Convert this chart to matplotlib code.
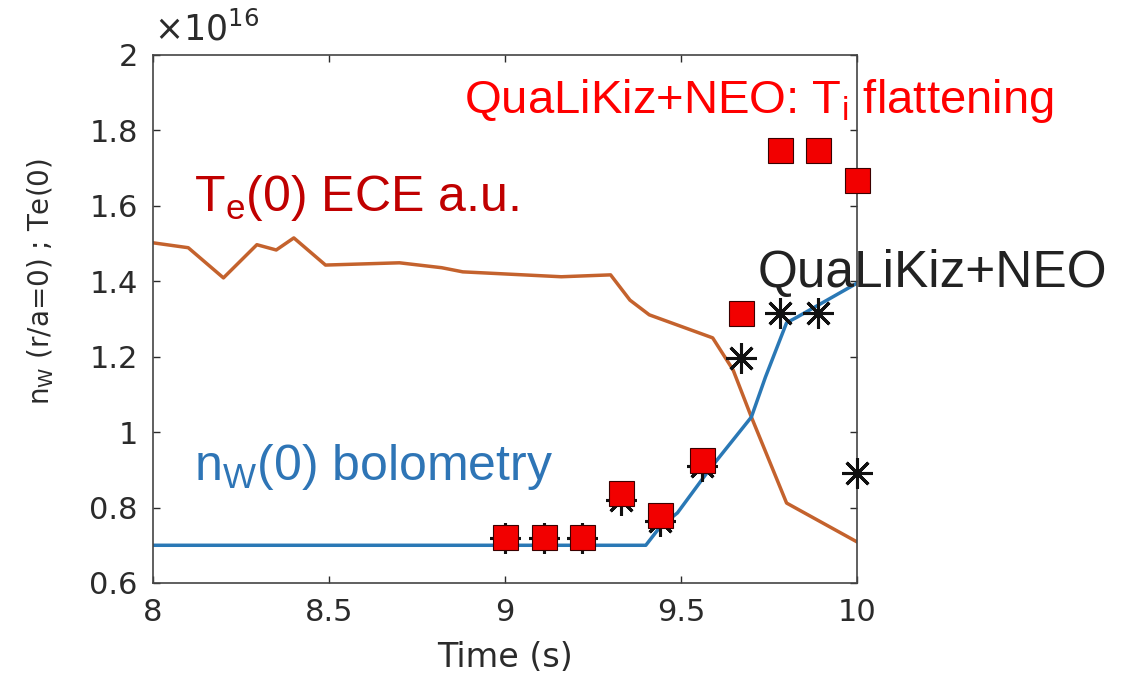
import numpy as np
import matplotlib
matplotlib.use("Agg")
import matplotlib.pyplot as plt

plt.rcParams['font.family'] = ['DejaVu Sans']
plt.rcParams['mathtext.default'] = 'regular'

# Te(0) ECE trace (a.u., plotted in units of 1e16)
te_t = [8.0, 8.10, 8.20, 8.295, 8.35, 8.40, 8.49, 8.70, 8.82, 8.88, 9.16, 9.30,
        9.355, 9.41, 9.59, 9.648, 9.70, 9.80, 10.0]
te_v = [1.502, 1.489, 1.409, 1.497, 1.483, 1.515, 1.443, 1.449, 1.436, 1.425,
        1.412, 1.417, 1.35, 1.311, 1.25, 1.165, 1.04, 0.812, 0.709]

# nW(0) bolometry trace
nw_t = [8.0, 9.40, 9.44, 9.49, 9.58, 9.70, 9.74, 9.80, 9.83, 10.0]
nw_v = [0.70, 0.70, 0.748, 0.786, 0.90, 1.04, 1.146, 1.29, 1.305, 1.395]

# QuaLiKiz+NEO simulation points
sim_t = [9.0, 9.11, 9.22, 9.33, 9.44, 9.56, 9.67, 9.78, 9.89, 10.0]
qlk_v = [0.72, 0.72, 0.72, 0.82, 0.765, 0.91, 1.197, 1.316, 1.316, 0.892]
qlk_ti_v = [0.722, 0.722, 0.722, 0.839, 0.78, 0.926, 1.316, 1.748, 1.748, 1.669]

fig = plt.figure(figsize=(11.27, 6.79), dpi=100)
ax = fig.add_axes([0.1358, 0.1414, 0.6246, 0.7776])

ax.plot(te_t, te_v, color='#c4622d', lw=2.5, zorder=2)
ax.plot(nw_t, nw_v, color='#2a78b5', lw=2.5, zorder=2)
ax.plot(sim_t, qlk_v, ls='none', marker=(8, 2, 0), ms=22, mew=2.2,
        color='#111111', zorder=3, clip_on=False)
ax.plot(sim_t, qlk_ti_v, ls='none', marker='s', ms=18, mfc='#f20000',
        mec='#3a0000', mew=0.8, zorder=4, clip_on=False)

ax.set_xlim(8, 10)
ax.set_ylim(0.6, 2.0)
ax.set_xticks([8, 8.5, 9, 9.5, 10])
ax.set_xticklabels(['8', '8.5', '9', '9.5', '10'])
ax.set_yticks([0.6, 0.8, 1.0, 1.2, 1.4, 1.6, 1.8, 2.0])
ax.set_yticklabels(['0.6', '0.8', '1', '1.2', '1.4', '1.6', '1.8', '2'])
ax.tick_params(direction='in', length=5, width=1, top=True, right=True,
               labelsize=22, colors='#2b2b2b', pad=11)
for sp in ax.spines.values():
    sp.set_color('#444444')
    sp.set_linewidth(1.2)

ax.set_xlabel('Time (s)', fontsize=24, color='#2b2b2b', labelpad=10)
fig.text(0.036, 0.585, 'n$_W$ (r/a=0) ; Te(0)', rotation=90, fontsize=20,
         color='#2b2b2b', ha='center', va='center')
fig.text(0.137, 0.93, r'$\times$10$^{16}$', fontsize=25, color='#2b2b2b',
         ha='left', va='bottom')

# annotations
fig.text(0.412, 0.833, 'QuaLiKiz+NEO: T$_i$ flattening', fontsize=34,
         color='#ff0000', family='Liberation Sans', ha='left', va='baseline')
fig.text(0.172, 0.689, 'T$_e$(0) ECE a.u.', fontsize=36,
         color='#c00000', family='Liberation Sans', ha='left', va='baseline')
fig.text(0.672, 0.577, 'QuaLiKiz+NEO', fontsize=37,
         color='#222222', family='Liberation Sans', ha='left', va='baseline')
fig.text(0.172, 0.293, 'n$_W$(0) bolometry', fontsize=36,
         color='#2e75b6', family='Liberation Sans', ha='left', va='baseline')

fig.savefig('out.png', dpi=100)
